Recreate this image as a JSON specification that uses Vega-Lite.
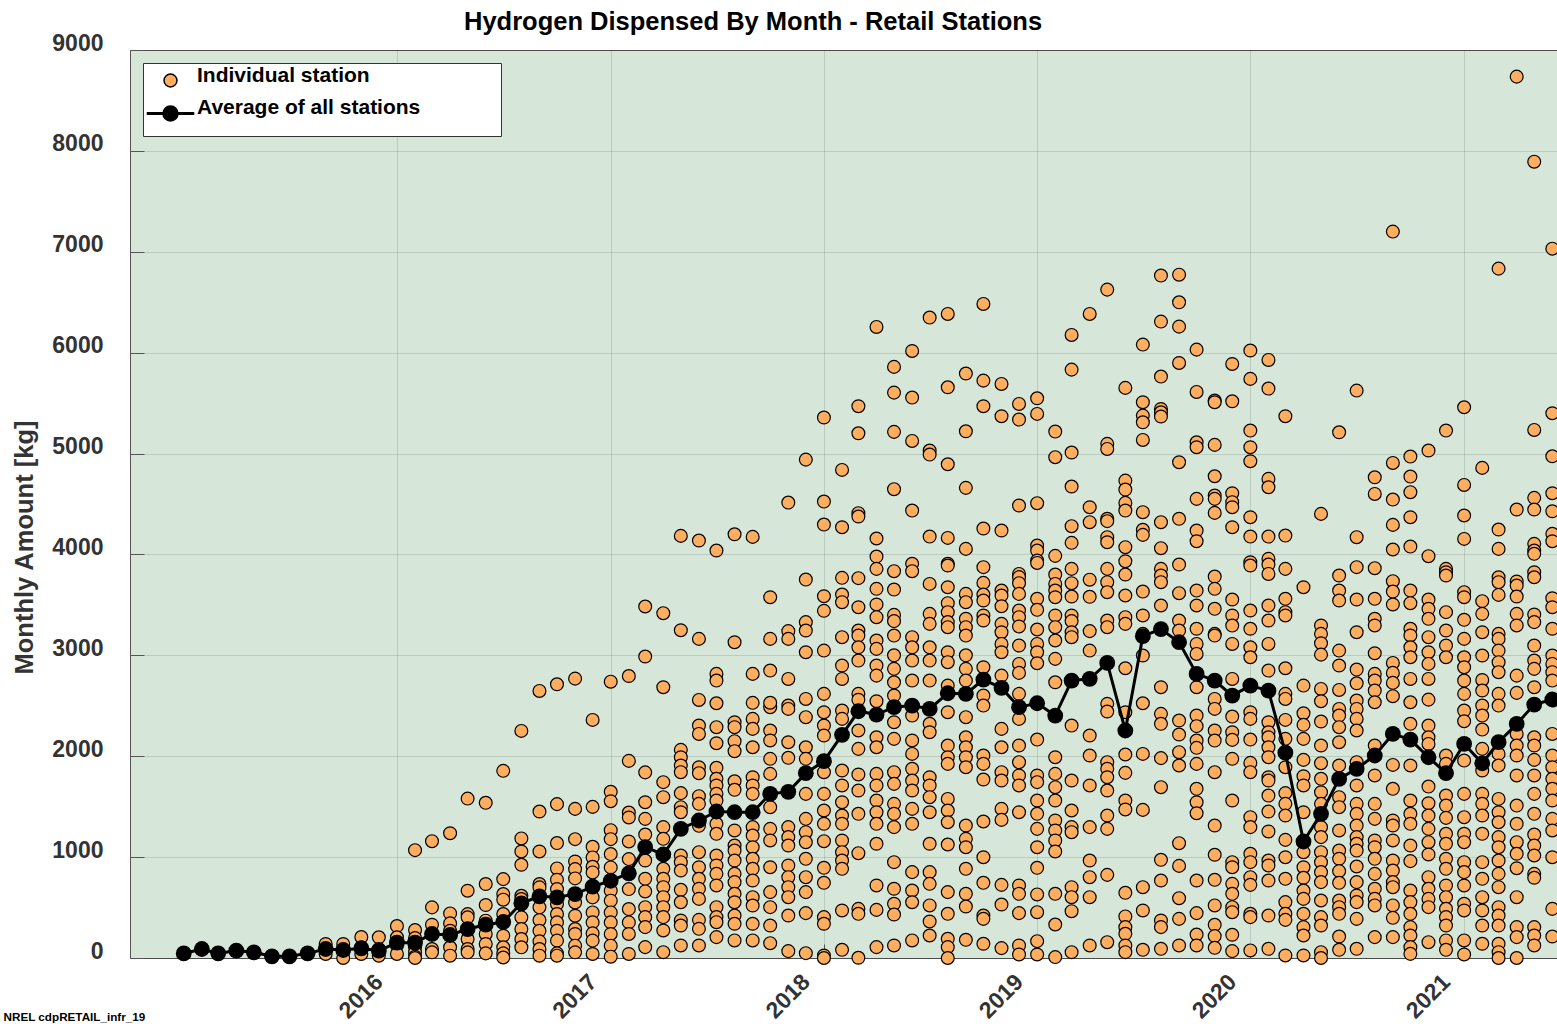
{"$schema":"https://vega.github.io/schema/vega-lite/v6.json","width":1427,"height":908,"autosize":"none","padding":{"left":130,"top":50,"right":0,"bottom":66},"background":"white",
"title":{"text":"Hydrogen Dispensed By Month - Retail Stations","anchor":"start","frame":"group","dx":334,"dy":24,"offset":21,"font":"Liberation Sans","fontSize":25.5,"fontWeight":"bold","color":"#000000"},
"config":{"view":{"fill":"#D6E7DA","stroke":"#555555"},"font":"Liberation Sans"},
"datasets":{"k":[{"k":"Individual station"},{"k":"Average of all stations"}],"s":[
{"d":"2015-09","v":139},{"d":"2015-09","v":89},{"d":"2015-09","v":40},
{"d":"2015-10","v":139},{"d":"2015-10","v":60},{"d":"2015-10","v":0},
{"d":"2015-11","v":208},{"d":"2015-11","v":106},{"d":"2015-11","v":40},
{"d":"2015-12","v":205},{"d":"2015-12","v":89},{"d":"2015-12","v":23},
{"d":"2016-01","v":317},{"d":"2016-01","v":205},{"d":"2016-01","v":122},{"d":"2016-01","v":40},
{"d":"2016-02","v":1069},{"d":"2016-02","v":277},{"d":"2016-02","v":198},{"d":"2016-02","v":106},{"d":"2016-02","v":56},{"d":"2016-02","v":13},{"d":"2016-02","v":0},
{"d":"2016-03","v":1158},{"d":"2016-03","v":502},{"d":"2016-03","v":330},{"d":"2016-03","v":238},{"d":"2016-03","v":89},{"d":"2016-03","v":56},
{"d":"2016-04","v":1237},{"d":"2016-04","v":442},{"d":"2016-04","v":343},{"d":"2016-04","v":270},{"d":"2016-04","v":106},{"d":"2016-04","v":23},
{"d":"2016-05","v":1580},{"d":"2016-05","v":667},{"d":"2016-05","v":435},{"d":"2016-05","v":403},{"d":"2016-05","v":188},{"d":"2016-05","v":89},{"d":"2016-05","v":56},
{"d":"2016-06","v":1538},{"d":"2016-06","v":733},{"d":"2016-06","v":525},{"d":"2016-06","v":370},{"d":"2016-06","v":238},{"d":"2016-06","v":139},{"d":"2016-06","v":46},
{"d":"2016-07","v":1855},{"d":"2016-07","v":782},{"d":"2016-07","v":634},{"d":"2016-07","v":578},{"d":"2016-07","v":436},{"d":"2016-07","v":221},{"d":"2016-07","v":106},{"d":"2016-07","v":46},{"d":"2016-07","v":5},
{"d":"2016-08","v":2251},{"d":"2016-08","v":1185},{"d":"2016-08","v":1056},{"d":"2016-08","v":924},{"d":"2016-08","v":617},{"d":"2016-08","v":584},{"d":"2016-08","v":535},{"d":"2016-08","v":403},{"d":"2016-08","v":287},{"d":"2016-08","v":188},{"d":"2016-08","v":106},
{"d":"2016-09","v":2647},{"d":"2016-09","v":1452},{"d":"2016-09","v":1056},{"d":"2016-09","v":733},{"d":"2016-09","v":700},{"d":"2016-09","v":601},{"d":"2016-09","v":502},{"d":"2016-09","v":376},{"d":"2016-09","v":270},{"d":"2016-09","v":165},{"d":"2016-09","v":89},{"d":"2016-09","v":23},
{"d":"2016-10","v":2713},{"d":"2016-10","v":1525},{"d":"2016-10","v":1139},{"d":"2016-10","v":888},{"d":"2016-10","v":776},{"d":"2016-10","v":683},{"d":"2016-10","v":535},{"d":"2016-10","v":436},{"d":"2016-10","v":353},{"d":"2016-10","v":270},{"d":"2016-10","v":172},{"d":"2016-10","v":46},{"d":"2016-10","v":23},
{"d":"2016-11","v":2769},{"d":"2016-11","v":1478},{"d":"2016-11","v":1178},{"d":"2016-11","v":957},{"d":"2016-11","v":881},{"d":"2016-11","v":789},{"d":"2016-11","v":551},{"d":"2016-11","v":419},{"d":"2016-11","v":287},{"d":"2016-11","v":238},{"d":"2016-11","v":122},{"d":"2016-11","v":56},
{"d":"2016-12","v":2360},{"d":"2016-12","v":1498},{"d":"2016-12","v":1102},{"d":"2016-12","v":997},{"d":"2016-12","v":904},{"d":"2016-12","v":848},{"d":"2016-12","v":601},{"d":"2016-12","v":452},{"d":"2016-12","v":353},{"d":"2016-12","v":244},{"d":"2016-12","v":172},{"d":"2016-12","v":40},
{"d":"2017-01","v":2739},{"d":"2017-01","v":1647},{"d":"2017-01","v":1554},{"d":"2017-01","v":1267},{"d":"2017-01","v":1178},{"d":"2017-01","v":1030},{"d":"2017-01","v":898},{"d":"2017-01","v":667},{"d":"2017-01","v":568},{"d":"2017-01","v":452},{"d":"2017-01","v":353},{"d":"2017-01","v":238},{"d":"2017-01","v":122},{"d":"2017-01","v":13},
{"d":"2017-02","v":2795},{"d":"2017-02","v":1954},{"d":"2017-02","v":1442},{"d":"2017-02","v":1393},{"d":"2017-02","v":1155},{"d":"2017-02","v":980},{"d":"2017-02","v":683},{"d":"2017-02","v":485},{"d":"2017-02","v":353},{"d":"2017-02","v":238},{"d":"2017-02","v":40},
{"d":"2017-03","v":3484},{"d":"2017-03","v":2988},{"d":"2017-03","v":1840},{"d":"2017-03","v":1544},{"d":"2017-03","v":1379},{"d":"2017-03","v":1224},{"d":"2017-03","v":966},{"d":"2017-03","v":785},{"d":"2017-03","v":660},{"d":"2017-03","v":504},{"d":"2017-03","v":405},{"d":"2017-03","v":306},{"d":"2017-03","v":108},
{"d":"2017-04","v":3418},{"d":"2017-04","v":2684},{"d":"2017-04","v":1743},{"d":"2017-04","v":1594},{"d":"2017-04","v":1297},{"d":"2017-04","v":1181},{"d":"2017-04","v":884},{"d":"2017-04","v":785},{"d":"2017-04","v":702},{"d":"2017-04","v":603},{"d":"2017-04","v":504},{"d":"2017-04","v":405},{"d":"2017-04","v":273},{"d":"2017-04","v":58},
{"d":"2017-05","v":4184},{"d":"2017-05","v":3249},{"d":"2017-05","v":2063},{"d":"2017-05","v":1990},{"d":"2017-05","v":1908},{"d":"2017-05","v":1842},{"d":"2017-05","v":1634},{"d":"2017-05","v":1495},{"d":"2017-05","v":1445},{"d":"2017-05","v":1016},{"d":"2017-05","v":950},{"d":"2017-05","v":867},{"d":"2017-05","v":676},{"d":"2017-05","v":553},{"d":"2017-05","v":372},{"d":"2017-05","v":322},{"d":"2017-05","v":124},
{"d":"2017-06","v":4138},{"d":"2017-06","v":3163},{"d":"2017-06","v":2558},{"d":"2017-06","v":2304},{"d":"2017-06","v":2221},{"d":"2017-06","v":1891},{"d":"2017-06","v":1832},{"d":"2017-06","v":1604},{"d":"2017-06","v":1528},{"d":"2017-06","v":1310},{"d":"2017-06","v":1049},{"d":"2017-06","v":900},{"d":"2017-06","v":785},{"d":"2017-06","v":686},{"d":"2017-06","v":586},{"d":"2017-06","v":378},{"d":"2017-06","v":289},{"d":"2017-06","v":124},
{"d":"2017-07","v":4039},{"d":"2017-07","v":2816},{"d":"2017-07","v":2750},{"d":"2017-07","v":2525},{"d":"2017-07","v":2288},{"d":"2017-07","v":2129},{"d":"2017-07","v":1885},{"d":"2017-07","v":1776},{"d":"2017-07","v":1710},{"d":"2017-07","v":1627},{"d":"2017-07","v":1561},{"d":"2017-07","v":1330},{"d":"2017-07","v":1231},{"d":"2017-07","v":1016},{"d":"2017-07","v":917},{"d":"2017-07","v":834},{"d":"2017-07","v":719},{"d":"2017-07","v":504},{"d":"2017-07","v":405},{"d":"2017-07","v":355},{"d":"2017-07","v":207},
{"d":"2017-08","v":4200},{"d":"2017-08","v":3130},{"d":"2017-08","v":2337},{"d":"2017-08","v":2288},{"d":"2017-08","v":2149},{"d":"2017-08","v":2050},{"d":"2017-08","v":1752},{"d":"2017-08","v":1667},{"d":"2017-08","v":1264},{"d":"2017-08","v":1115},{"d":"2017-08","v":1065},{"d":"2017-08","v":966},{"d":"2017-08","v":834},{"d":"2017-08","v":752},{"d":"2017-08","v":636},{"d":"2017-08","v":553},{"d":"2017-08","v":421},{"d":"2017-08","v":339},{"d":"2017-08","v":174},
{"d":"2017-09","v":4174},{"d":"2017-09","v":2816},{"d":"2017-09","v":2529},{"d":"2017-09","v":2370},{"d":"2017-09","v":2271},{"d":"2017-09","v":2089},{"d":"2017-09","v":1792},{"d":"2017-09","v":1710},{"d":"2017-09","v":1627},{"d":"2017-09","v":1297},{"d":"2017-09","v":1214},{"d":"2017-09","v":1098},{"d":"2017-09","v":983},{"d":"2017-09","v":884},{"d":"2017-09","v":768},{"d":"2017-09","v":603},{"d":"2017-09","v":520},{"d":"2017-09","v":339},{"d":"2017-09","v":174},
{"d":"2017-10","v":3576},{"d":"2017-10","v":3163},{"d":"2017-10","v":2849},{"d":"2017-10","v":2486},{"d":"2017-10","v":2530},{"d":"2017-10","v":2255},{"d":"2017-10","v":2156},{"d":"2017-10","v":1974},{"d":"2017-10","v":1825},{"d":"2017-10","v":1495},{"d":"2017-10","v":1280},{"d":"2017-10","v":1165},{"d":"2017-10","v":900},{"d":"2017-10","v":653},{"d":"2017-10","v":504},{"d":"2017-10","v":322},{"d":"2017-10","v":147},
{"d":"2017-11","v":4514},{"d":"2017-11","v":3240},{"d":"2017-11","v":3163},{"d":"2017-11","v":2766},{"d":"2017-11","v":2502},{"d":"2017-11","v":2469},{"d":"2017-11","v":2139},{"d":"2017-11","v":1984},{"d":"2017-11","v":1297},{"d":"2017-11","v":1198},{"d":"2017-11","v":1115},{"d":"2017-11","v":917},{"d":"2017-11","v":801},{"d":"2017-11","v":702},{"d":"2017-11","v":603},{"d":"2017-11","v":421},{"d":"2017-11","v":68},
{"d":"2017-12","v":4940},{"d":"2017-12","v":3751},{"d":"2017-12","v":3329},{"d":"2017-12","v":3246},{"d":"2017-12","v":3031},{"d":"2017-12","v":2568},{"d":"2017-12","v":2387},{"d":"2017-12","v":2089},{"d":"2017-12","v":1974},{"d":"2017-12","v":1627},{"d":"2017-12","v":1379},{"d":"2017-12","v":1247},{"d":"2017-12","v":1148},{"d":"2017-12","v":983},{"d":"2017-12","v":801},{"d":"2017-12","v":653},{"d":"2017-12","v":445},{"d":"2017-12","v":48},
{"d":"2018-01","v":5357},{"d":"2018-01","v":4524},{"d":"2018-01","v":4296},{"d":"2018-01","v":3586},{"d":"2018-01","v":3441},{"d":"2018-01","v":3047},{"d":"2018-01","v":2618},{"d":"2018-01","v":2436},{"d":"2018-01","v":2304},{"d":"2018-01","v":2205},{"d":"2018-01","v":1842},{"d":"2018-01","v":1627},{"d":"2018-01","v":1462},{"d":"2018-01","v":1330},{"d":"2018-01","v":1158},{"d":"2018-01","v":894},{"d":"2018-01","v":745},{"d":"2018-01","v":405},{"d":"2018-01","v":339},{"d":"2018-01","v":25},{"d":"2018-01","v":0},
{"d":"2018-02","v":4838},{"d":"2018-02","v":4270},{"d":"2018-02","v":3768},{"d":"2018-02","v":3603},{"d":"2018-02","v":3527},{"d":"2018-02","v":3180},{"d":"2018-02","v":2899},{"d":"2018-02","v":2766},{"d":"2018-02","v":2453},{"d":"2018-02","v":2370},{"d":"2018-02","v":1858},{"d":"2018-02","v":1710},{"d":"2018-02","v":1544},{"d":"2018-02","v":1412},{"d":"2018-02","v":1330},{"d":"2018-02","v":1165},{"d":"2018-02","v":1049},{"d":"2018-02","v":966},{"d":"2018-02","v":884},{"d":"2018-02","v":471},{"d":"2018-02","v":81},
{"d":"2018-03","v":5469},{"d":"2018-03","v":5201},{"d":"2018-03","v":4409},{"d":"2018-03","v":4376},{"d":"2018-03","v":3765},{"d":"2018-03","v":3477},{"d":"2018-03","v":3246},{"d":"2018-03","v":3196},{"d":"2018-03","v":3080},{"d":"2018-03","v":2948},{"d":"2018-03","v":2618},{"d":"2018-03","v":2560},{"d":"2018-03","v":2255},{"d":"2018-03","v":2073},{"d":"2018-03","v":1819},{"d":"2018-03","v":1660},{"d":"2018-03","v":1429},{"d":"2018-03","v":1039},{"d":"2018-03","v":487},{"d":"2018-03","v":438},{"d":"2018-03","v":2},
{"d":"2018-04","v":6255},{"d":"2018-04","v":4158},{"d":"2018-04","v":3979},{"d":"2018-04","v":3857},{"d":"2018-04","v":3659},{"d":"2018-04","v":3504},{"d":"2018-04","v":3378},{"d":"2018-04","v":3147},{"d":"2018-04","v":3064},{"d":"2018-04","v":2899},{"d":"2018-04","v":2799},{"d":"2018-04","v":2545},{"d":"2018-04","v":2188},{"d":"2018-04","v":2089},{"d":"2018-04","v":1825},{"d":"2018-04","v":1710},{"d":"2018-04","v":1561},{"d":"2018-04","v":1445},{"d":"2018-04","v":1330},{"d":"2018-04","v":1132},{"d":"2018-04","v":719},{"d":"2018-04","v":477},{"d":"2018-04","v":108},
{"d":"2018-05","v":5859},{"d":"2018-05","v":5604},{"d":"2018-05","v":5215},{"d":"2018-05","v":4647},{"d":"2018-05","v":3834},{"d":"2018-05","v":3652},{"d":"2018-05","v":3401},{"d":"2018-05","v":3339},{"d":"2018-05","v":3196},{"d":"2018-05","v":3000},{"d":"2018-05","v":2866},{"d":"2018-05","v":2733},{"d":"2018-05","v":2601},{"d":"2018-05","v":2337},{"d":"2018-05","v":2172},{"d":"2018-05","v":1842},{"d":"2018-05","v":1726},{"d":"2018-05","v":1528},{"d":"2018-05","v":1429},{"d":"2018-05","v":1297},{"d":"2018-05","v":950},{"d":"2018-05","v":686},{"d":"2018-05","v":537},{"d":"2018-05","v":431},{"d":"2018-05","v":124},
{"d":"2018-06","v":6017},{"d":"2018-06","v":5555},{"d":"2018-06","v":5125},{"d":"2018-06","v":4435},{"d":"2018-06","v":3907},{"d":"2018-06","v":3834},{"d":"2018-06","v":3180},{"d":"2018-06","v":3080},{"d":"2018-06","v":2948},{"d":"2018-06","v":2750},{"d":"2018-06","v":2403},{"d":"2018-06","v":2156},{"d":"2018-06","v":2023},{"d":"2018-06","v":1875},{"d":"2018-06","v":1759},{"d":"2018-06","v":1660},{"d":"2018-06","v":1478},{"d":"2018-06","v":1330},{"d":"2018-06","v":851},{"d":"2018-06","v":669},{"d":"2018-06","v":553},{"d":"2018-06","v":174},
{"d":"2018-07","v":6348},{"d":"2018-07","v":5030},{"d":"2018-07","v":4990},{"d":"2018-07","v":4177},{"d":"2018-07","v":3708},{"d":"2018-07","v":3411},{"d":"2018-07","v":3312},{"d":"2018-07","v":3080},{"d":"2018-07","v":2948},{"d":"2018-07","v":2750},{"d":"2018-07","v":2321},{"d":"2018-07","v":2238},{"d":"2018-07","v":1792},{"d":"2018-07","v":1710},{"d":"2018-07","v":1594},{"d":"2018-07","v":1445},{"d":"2018-07","v":1132},{"d":"2018-07","v":851},{"d":"2018-07","v":735},{"d":"2018-07","v":521},{"d":"2018-07","v":362},{"d":"2018-07","v":223},
{"d":"2018-08","v":6384},{"d":"2018-08","v":5657},{"d":"2018-08","v":4894},{"d":"2018-08","v":4164},{"d":"2018-08","v":3907},{"d":"2018-08","v":3890},{"d":"2018-08","v":3675},{"d":"2018-08","v":3517},{"d":"2018-08","v":3428},{"d":"2018-08","v":3329},{"d":"2018-08","v":3279},{"d":"2018-08","v":3031},{"d":"2018-08","v":2932},{"d":"2018-08","v":2700},{"d":"2018-08","v":2436},{"d":"2018-08","v":2106},{"d":"2018-08","v":1990},{"d":"2018-08","v":1924},{"d":"2018-08","v":1577},{"d":"2018-08","v":1462},{"d":"2018-08","v":1346},{"d":"2018-08","v":1125},{"d":"2018-08","v":653},{"d":"2018-08","v":438},{"d":"2018-08","v":190},{"d":"2018-08","v":108},{"d":"2018-08","v":0},
{"d":"2018-09","v":5793},{"d":"2018-09","v":5221},{"d":"2018-09","v":4660},{"d":"2018-09","v":4055},{"d":"2018-09","v":3609},{"d":"2018-09","v":3527},{"d":"2018-09","v":3362},{"d":"2018-09","v":3279},{"d":"2018-09","v":3196},{"d":"2018-09","v":3000},{"d":"2018-09","v":2866},{"d":"2018-09","v":2750},{"d":"2018-09","v":2387},{"d":"2018-09","v":2188},{"d":"2018-09","v":2089},{"d":"2018-09","v":1990},{"d":"2018-09","v":1891},{"d":"2018-09","v":1313},{"d":"2018-09","v":1181},{"d":"2018-09","v":1098},{"d":"2018-09","v":884},{"d":"2018-09","v":636},{"d":"2018-09","v":510},{"d":"2018-09","v":180},
{"d":"2018-10","v":6483},{"d":"2018-10","v":5723},{"d":"2018-10","v":5469},{"d":"2018-10","v":4257},{"d":"2018-10","v":3874},{"d":"2018-10","v":3718},{"d":"2018-10","v":3603},{"d":"2018-10","v":3543},{"d":"2018-10","v":3395},{"d":"2018-10","v":3345},{"d":"2018-10","v":2882},{"d":"2018-10","v":2601},{"d":"2018-10","v":2502},{"d":"2018-10","v":2007},{"d":"2018-10","v":1924},{"d":"2018-10","v":1769},{"d":"2018-10","v":1353},{"d":"2018-10","v":999},{"d":"2018-10","v":745},{"d":"2018-10","v":421},{"d":"2018-10","v":388},{"d":"2018-10","v":141},
{"d":"2018-11","v":5690},{"d":"2018-11","v":5370},{"d":"2018-11","v":4237},{"d":"2018-11","v":3642},{"d":"2018-11","v":3593},{"d":"2018-11","v":3487},{"d":"2018-11","v":3312},{"d":"2018-11","v":3229},{"d":"2018-11","v":3113},{"d":"2018-11","v":3031},{"d":"2018-11","v":2799},{"d":"2018-11","v":2271},{"d":"2018-11","v":2089},{"d":"2018-11","v":1842},{"d":"2018-11","v":1759},{"d":"2018-11","v":1478},{"d":"2018-11","v":1369},{"d":"2018-11","v":725},{"d":"2018-11","v":530},{"d":"2018-11","v":98},
{"d":"2018-12","v":5492},{"d":"2018-12","v":5337},{"d":"2018-12","v":4485},{"d":"2018-12","v":3807},{"d":"2018-12","v":3775},{"d":"2018-12","v":3715},{"d":"2018-12","v":3609},{"d":"2018-12","v":3444},{"d":"2018-12","v":3378},{"d":"2018-12","v":3286},{"d":"2018-12","v":3097},{"d":"2018-12","v":2915},{"d":"2018-12","v":2826},{"d":"2018-12","v":2618},{"d":"2018-12","v":2370},{"d":"2018-12","v":2106},{"d":"2018-12","v":1941},{"d":"2018-12","v":1809},{"d":"2018-12","v":1710},{"d":"2018-12","v":1445},{"d":"2018-12","v":719},{"d":"2018-12","v":636},{"d":"2018-12","v":445},{"d":"2018-12","v":124},{"d":"2018-12","v":35},
{"d":"2019-01","v":5548},{"d":"2019-01","v":5393},{"d":"2019-01","v":4508},{"d":"2019-01","v":4088},{"d":"2019-01","v":4039},{"d":"2019-01","v":3940},{"d":"2019-01","v":3916},{"d":"2019-01","v":3560},{"d":"2019-01","v":3451},{"d":"2019-01","v":3256},{"d":"2019-01","v":3113},{"d":"2019-01","v":3031},{"d":"2019-01","v":2922},{"d":"2019-01","v":2165},{"d":"2019-01","v":1809},{"d":"2019-01","v":1743},{"d":"2019-01","v":1561},{"d":"2019-01","v":1429},{"d":"2019-01","v":1280},{"d":"2019-01","v":1098},{"d":"2019-01","v":894},{"d":"2019-01","v":630},{"d":"2019-01","v":454},{"d":"2019-01","v":167},{"d":"2019-01","v":35},
{"d":"2019-02","v":5218},{"d":"2019-02","v":4964},{"d":"2019-02","v":3986},{"d":"2019-02","v":3801},{"d":"2019-02","v":3708},{"d":"2019-02","v":3642},{"d":"2019-02","v":3576},{"d":"2019-02","v":3395},{"d":"2019-02","v":3279},{"d":"2019-02","v":3147},{"d":"2019-02","v":2965},{"d":"2019-02","v":2733},{"d":"2019-02","v":1990},{"d":"2019-02","v":1825},{"d":"2019-02","v":1693},{"d":"2019-02","v":1561},{"d":"2019-02","v":1363},{"d":"2019-02","v":1264},{"d":"2019-02","v":1165},{"d":"2019-02","v":1056},{"d":"2019-02","v":636},{"d":"2019-02","v":332},{"d":"2019-02","v":9},
{"d":"2019-03","v":6176},{"d":"2019-03","v":5832},{"d":"2019-03","v":5010},{"d":"2019-03","v":4673},{"d":"2019-03","v":4280},{"d":"2019-03","v":4115},{"d":"2019-03","v":3857},{"d":"2019-03","v":3715},{"d":"2019-03","v":3583},{"d":"2019-03","v":3395},{"d":"2019-03","v":3339},{"d":"2019-03","v":3229},{"d":"2019-03","v":3180},{"d":"2019-03","v":2304},{"d":"2019-03","v":1759},{"d":"2019-03","v":1462},{"d":"2019-03","v":1297},{"d":"2019-03","v":1247},{"d":"2019-03","v":702},{"d":"2019-03","v":603},{"d":"2019-03","v":464},{"d":"2019-03","v":58},
{"d":"2019-04","v":6384},{"d":"2019-04","v":4468},{"d":"2019-04","v":4320},{"d":"2019-04","v":3750},{"d":"2019-04","v":3580},{"d":"2019-04","v":3240},{"d":"2019-04","v":3047},{"d":"2019-04","v":2205},{"d":"2019-04","v":2007},{"d":"2019-04","v":1710},{"d":"2019-04","v":1297},{"d":"2019-04","v":966},{"d":"2019-04","v":801},{"d":"2019-04","v":603},{"d":"2019-04","v":124},
{"d":"2019-05","v":6625},{"d":"2019-05","v":5096},{"d":"2019-05","v":5046},{"d":"2019-05","v":4353},{"d":"2019-05","v":4330},{"d":"2019-05","v":4171},{"d":"2019-05","v":4121},{"d":"2019-05","v":3857},{"d":"2019-05","v":3725},{"d":"2019-05","v":3626},{"d":"2019-05","v":3345},{"d":"2019-05","v":3279},{"d":"2019-05","v":2519},{"d":"2019-05","v":2443},{"d":"2019-05","v":1941},{"d":"2019-05","v":1875},{"d":"2019-05","v":1792},{"d":"2019-05","v":1660},{"d":"2019-05","v":1412},{"d":"2019-05","v":1280},{"d":"2019-05","v":824},{"d":"2019-05","v":157},
{"d":"2019-06","v":5651},{"d":"2019-06","v":4732},{"d":"2019-06","v":4643},{"d":"2019-06","v":4511},{"d":"2019-06","v":4435},{"d":"2019-06","v":4072},{"d":"2019-06","v":3933},{"d":"2019-06","v":3801},{"d":"2019-06","v":3593},{"d":"2019-06","v":3378},{"d":"2019-06","v":3312},{"d":"2019-06","v":2872},{"d":"2019-06","v":2436},{"d":"2019-06","v":2017},{"d":"2019-06","v":1835},{"d":"2019-06","v":1561},{"d":"2019-06","v":1472},{"d":"2019-06","v":646},{"d":"2019-06","v":412},{"d":"2019-06","v":306},{"d":"2019-06","v":240},{"d":"2019-06","v":124},{"d":"2019-06","v":58},
{"d":"2019-07","v":6080},{"d":"2019-07","v":5509},{"d":"2019-07","v":5376},{"d":"2019-07","v":5310},{"d":"2019-07","v":5135},{"d":"2019-07","v":4419},{"d":"2019-07","v":4244},{"d":"2019-07","v":4194},{"d":"2019-07","v":3632},{"d":"2019-07","v":3395},{"d":"2019-07","v":3213},{"d":"2019-07","v":2998},{"d":"2019-07","v":2525},{"d":"2019-07","v":2023},{"d":"2019-07","v":1468},{"d":"2019-07","v":702},{"d":"2019-07","v":471},{"d":"2019-07","v":81},
{"d":"2019-08","v":6764},{"d":"2019-08","v":6308},{"d":"2019-08","v":5763},{"d":"2019-08","v":5442},{"d":"2019-08","v":5409},{"d":"2019-08","v":5367},{"d":"2019-08","v":4320},{"d":"2019-08","v":4062},{"d":"2019-08","v":3857},{"d":"2019-08","v":3791},{"d":"2019-08","v":3725},{"d":"2019-08","v":3494},{"d":"2019-08","v":2684},{"d":"2019-08","v":2420},{"d":"2019-08","v":2321},{"d":"2019-08","v":1981},{"d":"2019-08","v":1693},{"d":"2019-08","v":973},{"d":"2019-08","v":768},{"d":"2019-08","v":372},{"d":"2019-08","v":306},{"d":"2019-08","v":91},
{"d":"2019-09","v":6773},{"d":"2019-09","v":6499},{"d":"2019-09","v":6258},{"d":"2019-09","v":5898},{"d":"2019-09","v":4914},{"d":"2019-09","v":4353},{"d":"2019-09","v":3900},{"d":"2019-09","v":3616},{"d":"2019-09","v":3345},{"d":"2019-09","v":3246},{"d":"2019-09","v":2354},{"d":"2019-09","v":2215},{"d":"2019-09","v":2040},{"d":"2019-09","v":1908},{"d":"2019-09","v":1138},{"d":"2019-09","v":913},{"d":"2019-09","v":593},{"d":"2019-09","v":388},{"d":"2019-09","v":124},
{"d":"2019-10","v":6030},{"d":"2019-10","v":5611},{"d":"2019-10","v":5112},{"d":"2019-10","v":5063},{"d":"2019-10","v":4551},{"d":"2019-10","v":4237},{"d":"2019-10","v":4131},{"d":"2019-10","v":3642},{"d":"2019-10","v":3494},{"d":"2019-10","v":3263},{"d":"2019-10","v":3113},{"d":"2019-10","v":3014},{"d":"2019-10","v":2684},{"d":"2019-10","v":2403},{"d":"2019-10","v":2298},{"d":"2019-10","v":2155},{"d":"2019-10","v":2083},{"d":"2019-10","v":1924},{"d":"2019-10","v":1677},{"d":"2019-10","v":1544},{"d":"2019-10","v":1435},{"d":"2019-10","v":768},{"d":"2019-10","v":445},{"d":"2019-10","v":233},{"d":"2019-10","v":124},
{"d":"2019-11","v":5525},{"d":"2019-11","v":5509},{"d":"2019-11","v":5086},{"d":"2019-11","v":4775},{"d":"2019-11","v":4584},{"d":"2019-11","v":4551},{"d":"2019-11","v":4412},{"d":"2019-11","v":3781},{"d":"2019-11","v":3659},{"d":"2019-11","v":3461},{"d":"2019-11","v":3213},{"d":"2019-11","v":3196},{"d":"2019-11","v":2568},{"d":"2019-11","v":2469},{"d":"2019-11","v":2255},{"d":"2019-11","v":2155},{"d":"2019-11","v":1842},{"d":"2019-11","v":1313},{"d":"2019-11","v":1023},{"d":"2019-11","v":775},{"d":"2019-11","v":521},{"d":"2019-11","v":329},{"d":"2019-11","v":217},{"d":"2019-11","v":101},
{"d":"2019-12","v":5888},{"d":"2019-12","v":5518},{"d":"2019-12","v":4607},{"d":"2019-12","v":4518},{"d":"2019-12","v":4468},{"d":"2019-12","v":4270},{"d":"2019-12","v":3553},{"d":"2019-12","v":3395},{"d":"2019-12","v":3295},{"d":"2019-12","v":3113},{"d":"2019-12","v":2766},{"d":"2019-12","v":2393},{"d":"2019-12","v":2238},{"d":"2019-12","v":2162},{"d":"2019-12","v":1974},{"d":"2019-12","v":1561},{"d":"2019-12","v":950},{"d":"2019-12","v":900},{"d":"2019-12","v":735},{"d":"2019-12","v":636},{"d":"2019-12","v":504},{"d":"2019-12","v":454},{"d":"2019-12","v":230},{"d":"2019-12","v":68},
{"d":"2020-01","v":6021},{"d":"2020-01","v":5740},{"d":"2020-01","v":5228},{"d":"2020-01","v":5063},{"d":"2020-01","v":4924},{"d":"2020-01","v":4369},{"d":"2020-01","v":4177},{"d":"2020-01","v":3923},{"d":"2020-01","v":3890},{"d":"2020-01","v":3444},{"d":"2020-01","v":3263},{"d":"2020-01","v":3080},{"d":"2020-01","v":2981},{"d":"2020-01","v":2436},{"d":"2020-01","v":2370},{"d":"2020-01","v":2165},{"d":"2020-01","v":1934},{"d":"2020-01","v":1842},{"d":"2020-01","v":1396},{"d":"2020-01","v":1297},{"d":"2020-01","v":1033},{"d":"2020-01","v":950},{"d":"2020-01","v":801},{"d":"2020-01","v":725},{"d":"2020-01","v":438},{"d":"2020-01","v":405},{"d":"2020-01","v":75},
{"d":"2020-02","v":5928},{"d":"2020-02","v":5644},{"d":"2020-02","v":4749},{"d":"2020-02","v":4666},{"d":"2020-02","v":4177},{"d":"2020-02","v":3956},{"d":"2020-02","v":3900},{"d":"2020-02","v":3807},{"d":"2020-02","v":3494},{"d":"2020-02","v":3345},{"d":"2020-02","v":3113},{"d":"2020-02","v":2849},{"d":"2020-02","v":2337},{"d":"2020-02","v":2238},{"d":"2020-02","v":2188},{"d":"2020-02","v":2089},{"d":"2020-02","v":1990},{"d":"2020-02","v":1792},{"d":"2020-02","v":1759},{"d":"2020-02","v":1610},{"d":"2020-02","v":1452},{"d":"2020-02","v":1254},{"d":"2020-02","v":966},{"d":"2020-02","v":917},{"d":"2020-02","v":768},{"d":"2020-02","v":421},{"d":"2020-02","v":91},
{"d":"2020-03","v":5370},{"d":"2020-03","v":4187},{"d":"2020-03","v":3857},{"d":"2020-03","v":3560},{"d":"2020-03","v":3428},{"d":"2020-03","v":3395},{"d":"2020-03","v":2872},{"d":"2020-03","v":2618},{"d":"2020-03","v":2568},{"d":"2020-03","v":2360},{"d":"2020-03","v":2172},{"d":"2020-03","v":1891},{"d":"2020-03","v":1634},{"d":"2020-03","v":1528},{"d":"2020-03","v":1412},{"d":"2020-03","v":1171},{"d":"2020-03","v":999},{"d":"2020-03","v":785},{"d":"2020-03","v":554},{"d":"2020-03","v":438},{"d":"2020-03","v":378},{"d":"2020-03","v":25},
{"d":"2020-04","v":3675},{"d":"2020-04","v":2700},{"d":"2020-04","v":2426},{"d":"2020-04","v":2311},{"d":"2020-04","v":2172},{"d":"2020-04","v":1964},{"d":"2020-04","v":1802},{"d":"2020-04","v":1710},{"d":"2020-04","v":1445},{"d":"2020-04","v":1049},{"d":"2020-04","v":900},{"d":"2020-04","v":795},{"d":"2020-04","v":669},{"d":"2020-04","v":586},{"d":"2020-04","v":438},{"d":"2020-04","v":306},{"d":"2020-04","v":223},{"d":"2020-04","v":25},
{"d":"2020-05","v":4402},{"d":"2020-05","v":3296},{"d":"2020-05","v":3213},{"d":"2020-05","v":3120},{"d":"2020-05","v":3007},{"d":"2020-05","v":2667},{"d":"2020-05","v":2545},{"d":"2020-05","v":2344},{"d":"2020-05","v":2106},{"d":"2020-05","v":1931},{"d":"2020-05","v":1776},{"d":"2020-05","v":1643},{"d":"2020-05","v":1528},{"d":"2020-05","v":1297},{"d":"2020-05","v":1198},{"d":"2020-05","v":1049},{"d":"2020-05","v":950},{"d":"2020-05","v":851},{"d":"2020-05","v":752},{"d":"2020-05","v":570},{"d":"2020-05","v":405},{"d":"2020-05","v":322},{"d":"2020-05","v":58},{"d":"2020-05","v":0},
{"d":"2020-06","v":5211},{"d":"2020-06","v":3791},{"d":"2020-06","v":3642},{"d":"2020-06","v":3543},{"d":"2020-06","v":3047},{"d":"2020-06","v":2899},{"d":"2020-06","v":2657},{"d":"2020-06","v":2469},{"d":"2020-06","v":2403},{"d":"2020-06","v":2288},{"d":"2020-06","v":2139},{"d":"2020-06","v":1908},{"d":"2020-06","v":1594},{"d":"2020-06","v":1495},{"d":"2020-06","v":1264},{"d":"2020-06","v":1065},{"d":"2020-06","v":983},{"d":"2020-06","v":861},{"d":"2020-06","v":745},{"d":"2020-06","v":570},{"d":"2020-06","v":504},{"d":"2020-06","v":438},{"d":"2020-06","v":213},{"d":"2020-06","v":81},
{"d":"2020-07","v":5624},{"d":"2020-07","v":4171},{"d":"2020-07","v":3874},{"d":"2020-07","v":3553},{"d":"2020-07","v":3229},{"d":"2020-07","v":2859},{"d":"2020-07","v":2723},{"d":"2020-07","v":2552},{"d":"2020-07","v":2469},{"d":"2020-07","v":2370},{"d":"2020-07","v":2255},{"d":"2020-07","v":1941},{"d":"2020-07","v":1710},{"d":"2020-07","v":1528},{"d":"2020-07","v":1429},{"d":"2020-07","v":1313},{"d":"2020-07","v":1198},{"d":"2020-07","v":1132},{"d":"2020-07","v":1065},{"d":"2020-07","v":907},{"d":"2020-07","v":752},{"d":"2020-07","v":620},{"d":"2020-07","v":554},{"d":"2020-07","v":388},{"d":"2020-07","v":91},
{"d":"2020-08","v":4765},{"d":"2020-08","v":4600},{"d":"2020-08","v":3864},{"d":"2020-08","v":3560},{"d":"2020-08","v":3362},{"d":"2020-08","v":3296},{"d":"2020-08","v":3021},{"d":"2020-08","v":2816},{"d":"2020-08","v":2750},{"d":"2020-08","v":2651},{"d":"2020-08","v":2535},{"d":"2020-08","v":2106},{"d":"2020-08","v":1809},{"d":"2020-08","v":1528},{"d":"2020-08","v":1379},{"d":"2020-08","v":1165},{"d":"2020-08","v":1098},{"d":"2020-08","v":983},{"d":"2020-08","v":834},{"d":"2020-08","v":686},{"d":"2020-08","v":586},{"d":"2020-08","v":521},{"d":"2020-08","v":207},
{"d":"2020-09","v":7200},{"d":"2020-09","v":4907},{"d":"2020-09","v":4544},{"d":"2020-09","v":4293},{"d":"2020-09","v":4049},{"d":"2020-09","v":3735},{"d":"2020-09","v":3632},{"d":"2020-09","v":3504},{"d":"2020-09","v":2925},{"d":"2020-09","v":2826},{"d":"2020-09","v":2727},{"d":"2020-09","v":2595},{"d":"2020-09","v":1914},{"d":"2020-09","v":1677},{"d":"2020-09","v":1363},{"d":"2020-09","v":1313},{"d":"2020-09","v":1165},{"d":"2020-09","v":966},{"d":"2020-09","v":867},{"d":"2020-09","v":752},{"d":"2020-09","v":702},{"d":"2020-09","v":521},{"d":"2020-09","v":398},{"d":"2020-09","v":207},
{"d":"2020-10","v":4970},{"d":"2020-10","v":4772},{"d":"2020-10","v":4617},{"d":"2020-10","v":4369},{"d":"2020-10","v":4078},{"d":"2020-10","v":3642},{"d":"2020-10","v":3517},{"d":"2020-10","v":3263},{"d":"2020-10","v":3197},{"d":"2020-10","v":3080},{"d":"2020-10","v":2981},{"d":"2020-10","v":2766},{"d":"2020-10","v":2535},{"d":"2020-10","v":2321},{"d":"2020-10","v":1908},{"d":"2020-10","v":1561},{"d":"2020-10","v":1429},{"d":"2020-10","v":1330},{"d":"2020-10","v":1115},{"d":"2020-10","v":960},{"d":"2020-10","v":669},{"d":"2020-10","v":554},{"d":"2020-10","v":438},{"d":"2020-10","v":306},{"d":"2020-10","v":223},{"d":"2020-10","v":108},{"d":"2020-10","v":41},
{"d":"2020-11","v":5030},{"d":"2020-11","v":3983},{"d":"2020-11","v":3553},{"d":"2020-11","v":3461},{"d":"2020-11","v":3362},{"d":"2020-11","v":3180},{"d":"2020-11","v":3031},{"d":"2020-11","v":2915},{"d":"2020-11","v":2766},{"d":"2020-11","v":2561},{"d":"2020-11","v":2304},{"d":"2020-11","v":2188},{"d":"2020-11","v":2122},{"d":"2020-11","v":1699},{"d":"2020-11","v":1534},{"d":"2020-11","v":1412},{"d":"2020-11","v":1280},{"d":"2020-11","v":1148},{"d":"2020-11","v":1026},{"d":"2020-11","v":801},{"d":"2020-11","v":686},{"d":"2020-11","v":586},{"d":"2020-11","v":504},{"d":"2020-11","v":157},
{"d":"2020-12","v":5228},{"d":"2020-12","v":3857},{"d":"2020-12","v":3824},{"d":"2020-12","v":3791},{"d":"2020-12","v":3428},{"d":"2020-12","v":3246},{"d":"2020-12","v":3097},{"d":"2020-12","v":2981},{"d":"2020-12","v":2007},{"d":"2020-12","v":1924},{"d":"2020-12","v":1610},{"d":"2020-12","v":1511},{"d":"2020-12","v":1389},{"d":"2020-12","v":1231},{"d":"2020-12","v":1132},{"d":"2020-12","v":983},{"d":"2020-12","v":884},{"d":"2020-12","v":719},{"d":"2020-12","v":603},{"d":"2020-12","v":488},{"d":"2020-12","v":405},{"d":"2020-12","v":322},{"d":"2020-12","v":174},{"d":"2020-12","v":81},
{"d":"2021-01","v":5459},{"d":"2021-01","v":4689},{"d":"2021-01","v":4386},{"d":"2021-01","v":4154},{"d":"2021-01","v":3626},{"d":"2021-01","v":3576},{"d":"2021-01","v":3352},{"d":"2021-01","v":3163},{"d":"2021-01","v":2981},{"d":"2021-01","v":2882},{"d":"2021-01","v":2750},{"d":"2021-01","v":2618},{"d":"2021-01","v":2453},{"d":"2021-01","v":2347},{"d":"2021-01","v":1957},{"d":"2021-01","v":1627},{"d":"2021-01","v":1396},{"d":"2021-01","v":1231},{"d":"2021-01","v":1148},{"d":"2021-01","v":950},{"d":"2021-01","v":851},{"d":"2021-01","v":719},{"d":"2021-01","v":537},{"d":"2021-01","v":471},{"d":"2021-01","v":174},{"d":"2021-01","v":35},
{"d":"2021-02","v":4858},{"d":"2021-02","v":3537},{"d":"2021-02","v":3411},{"d":"2021-02","v":3229},{"d":"2021-02","v":2998},{"d":"2021-02","v":2756},{"d":"2021-02","v":2651},{"d":"2021-02","v":2502},{"d":"2021-02","v":2403},{"d":"2021-02","v":2264},{"d":"2021-02","v":2073},{"d":"2021-02","v":1858},{"d":"2021-02","v":1627},{"d":"2021-02","v":1528},{"d":"2021-02","v":1412},{"d":"2021-02","v":1231},{"d":"2021-02","v":950},{"d":"2021-02","v":785},{"d":"2021-02","v":603},{"d":"2021-02","v":471},{"d":"2021-02","v":322},{"d":"2021-02","v":141},
{"d":"2021-03","v":6833},{"d":"2021-03","v":4247},{"d":"2021-03","v":4055},{"d":"2021-03","v":3774},{"d":"2021-03","v":3725},{"d":"2021-03","v":3599},{"d":"2021-03","v":3213},{"d":"2021-03","v":3163},{"d":"2021-03","v":3047},{"d":"2021-03","v":2932},{"d":"2021-03","v":2833},{"d":"2021-03","v":2618},{"d":"2021-03","v":2502},{"d":"2021-03","v":2023},{"d":"2021-03","v":1908},{"d":"2021-03","v":1577},{"d":"2021-03","v":1445},{"d":"2021-03","v":1346},{"d":"2021-03","v":1198},{"d":"2021-03","v":1098},{"d":"2021-03","v":966},{"d":"2021-03","v":834},{"d":"2021-03","v":702},{"d":"2021-03","v":504},{"d":"2021-03","v":421},{"d":"2021-03","v":322},{"d":"2021-03","v":141},{"d":"2021-03","v":58},{"d":"2021-03","v":0},
{"d":"2021-04","v":8736},{"d":"2021-04","v":4445},{"d":"2021-04","v":3732},{"d":"2021-04","v":3692},{"d":"2021-04","v":3583},{"d":"2021-04","v":3411},{"d":"2021-04","v":3296},{"d":"2021-04","v":2799},{"d":"2021-04","v":2628},{"d":"2021-04","v":2221},{"d":"2021-04","v":2106},{"d":"2021-04","v":2007},{"d":"2021-04","v":1809},{"d":"2021-04","v":1511},{"d":"2021-04","v":1330},{"d":"2021-04","v":1148},{"d":"2021-04","v":1033},{"d":"2021-04","v":890},{"d":"2021-04","v":603},{"d":"2021-04","v":306},{"d":"2021-04","v":207},{"d":"2021-04","v":0},
{"d":"2021-05","v":7893},{"d":"2021-05","v":5234},{"d":"2021-05","v":4561},{"d":"2021-05","v":4445},{"d":"2021-05","v":4105},{"d":"2021-05","v":4039},{"d":"2021-05","v":4006},{"d":"2021-05","v":3824},{"d":"2021-05","v":3774},{"d":"2021-05","v":3405},{"d":"2021-05","v":3329},{"d":"2021-05","v":3097},{"d":"2021-05","v":2948},{"d":"2021-05","v":2866},{"d":"2021-05","v":2684},{"d":"2021-05","v":2188},{"d":"2021-05","v":2106},{"d":"2021-05","v":1964},{"d":"2021-05","v":1809},{"d":"2021-05","v":1627},{"d":"2021-05","v":1429},{"d":"2021-05","v":1224},{"d":"2021-05","v":1115},{"d":"2021-05","v":1016},{"d":"2021-05","v":834},{"d":"2021-05","v":795},{"d":"2021-05","v":306},{"d":"2021-05","v":223},{"d":"2021-05","v":124},
{"d":"2021-06","v":7031},{"d":"2021-06","v":5400},{"d":"2021-06","v":4973},{"d":"2021-06","v":4607},{"d":"2021-06","v":4428},{"d":"2021-06","v":4204},{"d":"2021-06","v":4131},{"d":"2021-06","v":3566},{"d":"2021-06","v":3477},{"d":"2021-06","v":3263},{"d":"2021-06","v":2998},{"d":"2021-06","v":2915},{"d":"2021-06","v":2833},{"d":"2021-06","v":2750},{"d":"2021-06","v":2221},{"d":"2021-06","v":2007},{"d":"2021-06","v":1891},{"d":"2021-06","v":1776},{"d":"2021-06","v":1677},{"d":"2021-06","v":1561},{"d":"2021-06","v":1379},{"d":"2021-06","v":1264},{"d":"2021-06","v":999},{"d":"2021-06","v":487},{"d":"2021-06","v":213}
],"a":[
{"d":"2015-01","v":45},{"d":"2015-02","v":89},{"d":"2015-03","v":46},{"d":"2015-04","v":73},{"d":"2015-05","v":56},{"d":"2015-06","v":17},{"d":"2015-07","v":17},{"d":"2015-08","v":46},{"d":"2015-09","v":89},{"d":"2015-10","v":79},{"d":"2015-11","v":96},{"d":"2015-12","v":73},
{"d":"2016-01","v":152},{"d":"2016-02","v":152},{"d":"2016-03","v":238},{"d":"2016-04","v":228},{"d":"2016-05","v":287},{"d":"2016-06","v":330},{"d":"2016-07","v":357},{"d":"2016-08","v":542},{"d":"2016-09","v":611},{"d":"2016-10","v":601},{"d":"2016-11","v":634},{"d":"2016-12","v":707},
{"d":"2017-01","v":766},{"d":"2017-02","v":839},{"d":"2017-03","v":1099},{"d":"2017-04","v":1026},{"d":"2017-05","v":1280},{"d":"2017-06","v":1363},{"d":"2017-07","v":1452},{"d":"2017-08","v":1445},{"d":"2017-09","v":1445},{"d":"2017-10","v":1627},{"d":"2017-11","v":1647},{"d":"2017-12","v":1832},
{"d":"2018-01","v":1951},{"d":"2018-02","v":2212},{"d":"2018-03","v":2446},{"d":"2018-04","v":2413},{"d":"2018-05","v":2486},{"d":"2018-06","v":2502},{"d":"2018-07","v":2469},{"d":"2018-08","v":2624},{"d":"2018-09","v":2618},{"d":"2018-10","v":2760},{"d":"2018-11","v":2677},{"d":"2018-12","v":2486},
{"d":"2019-01","v":2525},{"d":"2019-02","v":2403},{"d":"2019-03","v":2750},{"d":"2019-04","v":2767},{"d":"2019-05","v":2925},{"d":"2019-06","v":2255},{"d":"2019-07","v":3190},{"d":"2019-08","v":3260},{"d":"2019-09","v":3130},{"d":"2019-10","v":2816},{"d":"2019-11","v":2750},{"d":"2019-12","v":2601},
{"d":"2020-01","v":2700},{"d":"2020-02","v":2650},{"d":"2020-03","v":2035},{"d":"2020-04","v":1155},{"d":"2020-05","v":1429},{"d":"2020-06","v":1775},{"d":"2020-07","v":1875},{"d":"2020-08","v":2007},{"d":"2020-09","v":2221},{"d":"2020-10","v":2165},{"d":"2020-11","v":1990},{"d":"2020-12","v":1832},
{"d":"2021-01","v":2122},{"d":"2021-02","v":1930},{"d":"2021-03","v":2139},{"d":"2021-04","v":2320},{"d":"2021-05","v":2512},{"d":"2021-06","v":2562},{"d":"2021-07","v":2600}
]},
"encoding":{
"x":{"field":"d","type":"temporal","scale":{"type":"utc","domain":["2014-10-01","2021-06-09"]},"axis":{"title":"NREL cdpRETAIL_infr_19","titleFont":"Liberation Sans","titleFontSize":11.7,"titleFontWeight":"bold","titleColor":"#000000","titleAlign":"left","titleAnchor":"start","titleBaseline":"alphabetic","titleX":-127,"titleY":62,"values":[{"year":2016,"month":1,"date":1,"utc":true},{"year":2017,"month":1,"date":1,"utc":true},{"year":2018,"month":1,"date":1,"utc":true},{"year":2019,"month":1,"date":1,"utc":true},{"year":2020,"month":1,"date":1,"utc":true},{"year":2021,"month":1,"date":1,"utc":true}],"format":"%Y","grid":true,"gridColor":"#000000","gridOpacity":0.12,"domain":false,"tickSize":-14,"tickColor":"#555555","labelAngle":-45,"labelAlign":"right","labelBaseline":"middle","labelPadding":34,"labelOffset":-18,"labelFont":"Liberation Sans","labelFontSize":23,"labelFontWeight":"bold","labelColor":"#333333","labelOverlap":false,"labelBound":false,"labelFlush":false}},
"y":{"field":"v","type":"quantitative","scale":{"domain":[0,9000],"nice":false},"axis":{"title":"Monthly Amount [kg]","titleFont":"Liberation Sans","titleFontSize":25.5,"titleFontWeight":"bold","titleColor":"#333333","titleX":-93,"titleY":497,"values":[0,1000,2000,3000,4000,5000,6000,7000,8000,9000],"format":"d","grid":true,"gridColor":"#000000","gridOpacity":0.12,"domain":false,"tickSize":-14,"tickColor":"#555555","labelPadding":41,"labelOffset":-7,"labelFont":"Liberation Sans","labelFontSize":23,"labelFontWeight":"bold","labelColor":"#333333","labelOverlap":false,"labelBound":false,"labelFlush":false}}
},
"layer":[
{"data":{"name":"s"},"mark":{"type":"point","filled":true,"size":165,"fill":"#FFAD5F","stroke":"#000000","strokeWidth":1.2,"opacity":1,"shape":"circle"},"encoding":{}},
{"data":{"name":"a"},"mark":{"type":"line","color":"#000000","strokeWidth":3},"encoding":{}},
{"data":{"name":"a"},"mark":{"type":"point","filled":true,"size":250,"fill":"#000000","opacity":1,"shape":"circle"},"encoding":{}},
{"data":{"name":"k"},"mark":{"type":"point","filled":true,"opacity":1,"stroke":"#000000","strokeWidth":1},"encoding":{
"x":{"datum":null},"y":{"datum":null},
"fill":{"field":"k","type":"nominal","scale":{"domain":["Individual station","Average of all stations"],"range":["#FFAD5F","#000000"]},"legend":{"title":null,"orient":"none","legendX":13,"legendY":13,"fillColor":"#ffffff","strokeColor":"#333333","padding":2,"symbolSize":256,"labelFont":"Liberation Sans","labelFontSize":21,"labelFontWeight":"bold","labelColor":"#000000","labelOffset":31,"rowPadding":6,"labelLimit":400}},
"shape":{"field":"k","type":"nominal","scale":{"domain":["Individual station","Average of all stations"],"range":["M1.065,0.625A0.81,0.81 0 1 1 2.685,0.625A0.81,0.81 0 1 1 1.065,0.625ZM42.5,0","M-1,0.65H4.75V0.85H-1ZM0.935,0.75A0.94,0.94 0 1 1 2.815,0.75A0.94,0.94 0 1 1 0.935,0.75ZM0,2.9"]},"legend":{"title":null,"orient":"none","legendX":13,"legendY":13,"fillColor":"#ffffff","strokeColor":"#333333","padding":2,"symbolSize":256,"labelFont":"Liberation Sans","labelFontSize":21,"labelFontWeight":"bold","labelColor":"#000000","labelOffset":31,"rowPadding":6,"labelLimit":400}}}}
]}
